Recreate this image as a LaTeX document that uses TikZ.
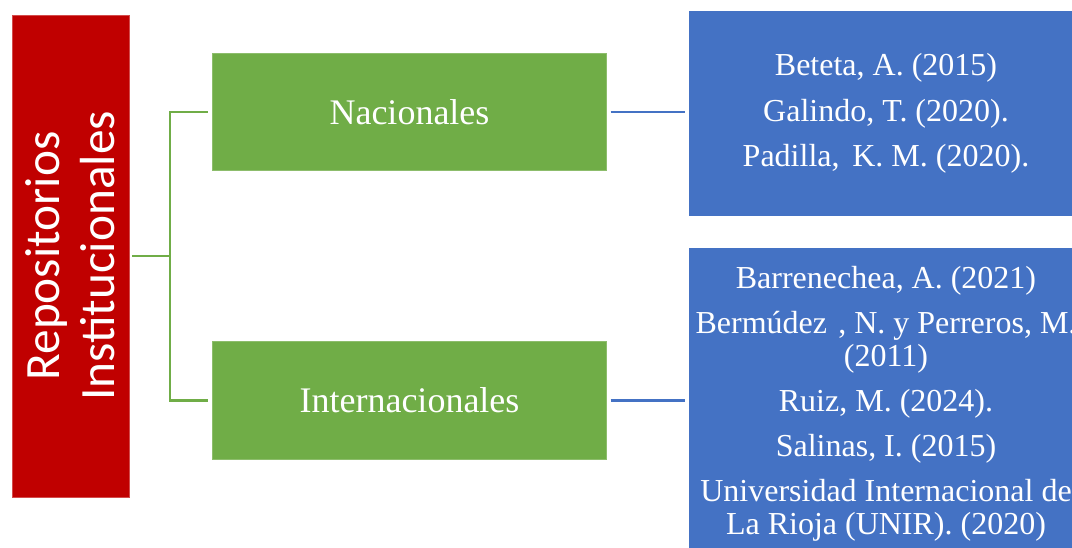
\documentclass[tikz,border=0pt]{standalone}
\usepackage{fontspec}
\setmainfont{Liberation Serif}
\newfontfamily\carlito{Carlito}
\usepackage{tikz}
\usetikzlibrary{positioning}
\definecolor{repored}{RGB}{192,0,0}
\definecolor{repogreen}{RGB}{112,173,71}
\definecolor{repoblue}{RGB}{68,114,196}

\begin{document}
\begin{tikzpicture}[x=0.75pt, y=-0.75pt,
    catbox/.style={fill=repogreen, draw=repogreen!80!white, line width=0.6pt,
      minimum width=296pt, minimum height=88pt, inner sep=0pt,
      text=white, font=\fontsize{27}{30}\selectfont},
    refbox/.style={fill=repoblue, inner sep=0pt, minimum width=295.5pt,
      align=center, text=white, font=\fontsize{24}{24.75}\selectfont},
    greenline/.style={draw=repogreen, line width=1.6pt},
    blueline/.style={draw=repoblue, line width=1.6pt, shorten <=2.5pt, shorten >=2.5pt}]
    \clip (0,0) rectangle (1072,548);
    \fill[white] (0,0) rectangle (1072,548);

    \node[fill=repored, draw=repored!70!white, line width=0.6pt,
          minimum width=87.75pt, minimum height=361.5pt, inner sep=0pt]
          (repos) at (70.5,256) {};
    \node[rotate=90, align=center, text=white,
          font=\carlito\fontsize{37}{41}\selectfont] (repostext) at (70.5,256)
          {Repositorios\\Institucionales};

    \node[catbox] (nac) at (409.5,112) {Nacionales};
    \node[catbox] (inter) at (409.5,400.5) {Internacionales};

    \node[refbox, minimum height=153.75pt] (nacrefs) at (886,113.5) {
      Beteta, A. (2015)\\[9.5pt]
      Galindo, T. (2020).\\[9.5pt]
      Padilla,\hspace{0.4em}K. M. (2020).};
    \node[refbox, minimum height=234pt] (interrefs) at (886,404) {
      Barrenechea, A. (2021)\\[9pt]
      Bermúdez\hspace{0.35em}, N. y Perreros, M.\\
      (2011)\\[9pt]
      Ruiz, M. (2024).\\[9pt]
      Salinas, I. (2015)\\[9pt]
      Universidad Internacional de\\
      La Rioja (UNIR). (2020)};

    % tree connectors
    \coordinate (fork) at (170,256);
    \draw[greenline, shorten <=2pt] (repos.east) -- (fork);
    \draw[greenline, shorten <=3pt] (nac.west) -| (fork);
    \draw[greenline, shorten <=3pt] (inter.west) -| (fork);
    \draw[blueline] (nac.east) -- (nac.east -| nacrefs.west);
    \draw[blueline] (inter.east) -- (inter.east -| interrefs.west);
\end{tikzpicture}
\end{document}
